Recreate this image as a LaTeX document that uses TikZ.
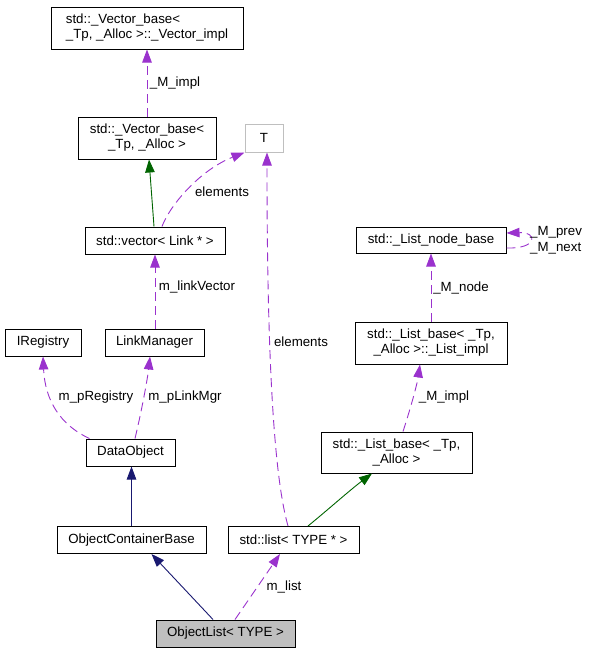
\documentclass[tikz,border=0pt]{standalone}
\usepackage{fontspec}
\setmainfont{Liberation Sans}
\usetikzlibrary{arrows.meta}
\definecolor{edgepurple}{HTML}{9A32CD}
\definecolor{edgegreen}{HTML}{006400}
\definecolor{edgenavy}{HTML}{191970}
\definecolor{boxgrey}{HTML}{BFBFBF}
\newcommand{\lblfont}{\fontsize{13.3}{15}\selectfont}
\tikzset{
  cbox/.style={draw=black, line width=1pt, inner sep=0pt, align=center, font=\lblfont},
  elabel/.style={inner sep=0pt, font=\lblfont},
  usage/.style={draw=edgepurple, line width=0.9pt, dash pattern=on 9pt off 5pt, -{Triangle[length=13pt,width=9.5pt,fill=edgepurple]}},
  inhgreen/.style={draw=edgegreen, line width=0.9pt, -{Triangle[length=13pt,width=9.5pt,fill=edgegreen]}},
  inhnavy/.style={draw=edgenavy, line width=0.9pt, -{Triangle[length=13pt,width=9.5pt,fill=edgenavy]}},
}
\begin{document}
\begin{tikzpicture}[x=1pt,y=-1pt]
\useasboundingbox (0,0) rectangle (592,653);
% nodes
\node[cbox, minimum width=192pt, minimum height=42pt, align=left] (vimpl) at (147,28) {std::\_Vector\_base<\\\_Tp, \_Alloc >::\_Vector\_impl};
\node[cbox, minimum width=138pt, minimum height=42pt] (vbase) at (147,138) {std::\_Vector\_base<\\\_Tp, \_Alloc >};
\node[cbox, draw=boxgrey, minimum width=38pt, minimum height=28pt] (T) at (264,138) {T};
\node[cbox, minimum width=140pt, minimum height=27pt] (vec) at (155,240.5) {std::vector< Link * >};
\node[cbox, minimum width=76pt, minimum height=27pt] (ireg) at (43,342.5) {IRegistry};
\node[cbox, minimum width=99pt, minimum height=27pt] (lm) at (154.5,342.5) {LinkManager};
\node[cbox, minimum width=89pt, minimum height=27pt] (dobj) at (130.5,452.5) {DataObject};
\node[cbox, minimum width=149pt, minimum height=27pt] (ocb) at (131.5,540) {ObjectContainerBase};
\node[cbox, minimum width=131pt, minimum height=27pt] (lst) at (293.5,540) {std::list< TYPE * >};
\node[cbox, fill=boxgrey, minimum width=139pt, minimum height=27pt] (ol) at (225.5,633.5) {ObjectList< TYPE >};
\node[cbox, minimum width=150pt, minimum height=26pt] (lnb) at (431,240) {std::\_List\_node\_base};
\node[cbox, minimum width=152pt, minimum height=42pt] (limpl) at (431,343) {std::\_List\_base< \_Tp,\\\_Alloc >::\_List\_impl};
\node[cbox, minimum width=151pt, minimum height=41pt] (lbase) at (396.5,452.5) {std::\_List\_base< \_Tp,\\\_Alloc >};
% edges
\draw[usage] (vbase.north) -- (vimpl.south);
\draw[inhgreen] ([xshift=-1pt]vec.north) -- ([xshift=2pt]vbase.south);
\draw[usage] ([xshift=7pt]vec.north) .. controls (170,205) and (200,170) .. (T.south west);
\draw[usage] ([xshift=0.5pt]lm.north) -- (vec.south);
\draw[usage] ([xshift=-41pt]dobj.north) .. controls (60,425) and (45,400) .. (ireg.south);
\draw[usage] ([xshift=4.5pt]dobj.north) .. controls (143,405) and (148,375) .. ([xshift=-4.5pt]lm.south);
\draw[inhnavy] (ocb.north) -- ([xshift=1pt]dobj.south);
\draw[inhnavy] ([xshift=-12.5pt]ol.north) -- ([xshift=20pt]ocb.south);
\draw[usage] ([xshift=9.5pt]ol.north) -- ([xshift=-13.5pt]lst.south);
\draw[usage] ([xshift=-5.5pt]lst.north) .. controls (272,470) and (267,330) .. ([xshift=3pt]T.south);
\draw[inhgreen] ([xshift=14.5pt]lst.north) .. controls (330,508) and (350,490) .. ([xshift=-24.5pt]lbase.south);
\draw[usage] ([xshift=6.5pt]lbase.north) .. controls (410,410) and (417,385) .. ([xshift=-11pt]limpl.south);
\draw[usage] (limpl.north) -- (lnb.south);
\draw[usage] ([yshift=-8pt]lnb.east) .. controls (538,249) and (538,232) .. ([yshift=7pt]lnb.east);
% labels
\node[elabel] (l1) at (175,83) {\_M\_impl};
\node[elabel] (l2) at (222,192) {elements};
\node[elabel] (l3) at (197,287) {m\_linkVector};
\node[elabel] (l4) at (96,397) {m\_pRegistry};
\node[elabel] (l5) at (185,397) {m\_pLinkMgr};
\node[elabel] (l6) at (301,342) {elements};
\node[elabel] (l7) at (284,587) {m\_list};
\node[elabel] (l8) at (444,397) {\_M\_impl};
\node[elabel] (l9) at (461,288) {\_M\_node};
\node[elabel, anchor=west] (l10) at (530,232) {\_M\_prev};
\node[elabel, anchor=west] (l11) at (530,248) {\_M\_next};
\end{tikzpicture}
\end{document}
